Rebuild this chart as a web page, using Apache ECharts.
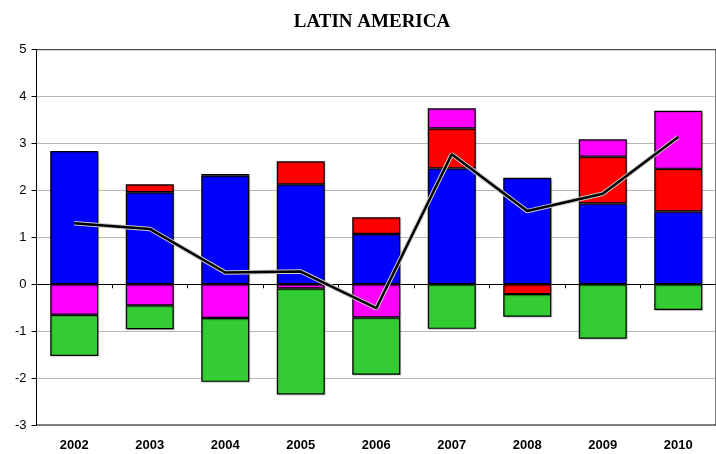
<!DOCTYPE html>
<html>
<head>
<meta charset="utf-8">
<script src="https://cdn.jsdelivr.net/npm/echarts@6/dist/echarts.min.js"></script>
<style>html,body{margin:0;padding:0;background:#fff}#c{width:716px;height:454px}</style>
</head>
<body>
<div id="c"></div>
<script>
var categories = ['2002','2003','2004','2005','2006','2007','2008','2009','2010'];
var blueVals    = [2.84, 1.96, 2.32, 2.13, 1.07, 2.47, 2.27, 1.72, 1.55];
var redVals     = [null, 0.17, 0.03, 0.49, 0.36, 0.85, -0.21, 1.00, 0.91];
var magentaVals = [-0.65, -0.45, -0.72, -0.09, -0.71, 0.43, null, 0.37, 1.24];
var greenVals   = [-0.88, -0.51, -1.36, -2.26, -1.22, -0.95, -0.48, -1.16, -0.55];
var lineVals    = [1.30, 1.18, 0.25, 0.27, -0.51, 2.77, 1.56, 1.93, 3.14];
var yTicks = [-3, -2, -1, 0, 1, 2, 3, 4, 5];

var chart = echarts.init(document.getElementById('c'), null, {renderer: 'canvas'});
function barSeries(name, data, color) {
  return {
    name: name, type: 'bar', stack: 'total', data: data, xAxisIndex: 0,
    barWidth: 48,
    itemStyle: {color: color, borderColor: '#000', borderWidth: 1.2,
      shadowColor: 'rgba(0,0,0,0.18)', shadowOffsetX: 1, shadowOffsetY: 1, shadowBlur: 1},
    emphasis: {disabled: true}
  };
}
chart.setOption({
  animation: false,
  backgroundColor: '#fff',
  title: {
    text: 'LATIN AMERICA', left: 367, top: 8, textAlign: 'center',
    textStyle: {fontFamily: 'Liberation Serif', fontWeight: 'bold', fontSize: 19, color: '#000'}
  },
  grid: {left: 36.5, top: 49.7, width: 688, bottom: 29, show: true, borderColor: '#000', borderWidth: 1, backgroundColor: 'transparent'},
  xAxis: [{
    type: 'category', data: categories, position: 'bottom',
    axisLine: {onZero: true, lineStyle: {color: '#000', width: 1}},
    axisTick: {show: true, inside: false, length: 4, lineStyle: {color: '#000'}},
    axisLabel: {show: false},
    splitLine: {show: false}
  }, {
    type: 'category', data: categories, position: 'bottom',
    axisLine: {show: false, onZero: false},
    axisTick: {show: false},
    axisLabel: {show: true, margin: 14, fontFamily: 'Liberation Sans', fontWeight: 'bold', fontSize: 13, color: '#000'},
    splitLine: {show: false}
  }],
  yAxis: {
    type: 'value', min: yTicks[0], max: yTicks[yTicks.length - 1], interval: 1,
    axisLine: {show: true, lineStyle: {color: '#000'}},
    axisTick: {show: true, inside: false, length: 5, lineStyle: {color: '#000'}},
    axisLabel: {margin: 10, fontFamily: 'Liberation Sans', fontSize: 13, color: '#000'},
    splitLine: {show: true, lineStyle: {color: '#707070', type: [1, 1], width: 1}}
  },
  series: [
    barSeries('blue', blueVals, '#0000FF'),
    barSeries('red', redVals, '#FF0000'),
    barSeries('magenta', magentaVals, '#FF00FF'),
    barSeries('green', greenVals, '#33CC33'),
    {name: 'halo', type: 'line', data: lineVals, symbol: 'none', xAxisIndex: 0, z: 5,
      lineStyle: {color: '#c8c8c8', width: 4.5}, emphasis: {disabled: true}},
    {name: 'total', type: 'line', data: lineVals, symbol: 'none', xAxisIndex: 0, z: 6,
      lineStyle: {color: '#000', width: 2.5}, emphasis: {disabled: true}}
  ]
});
</script>
</body>
</html>
